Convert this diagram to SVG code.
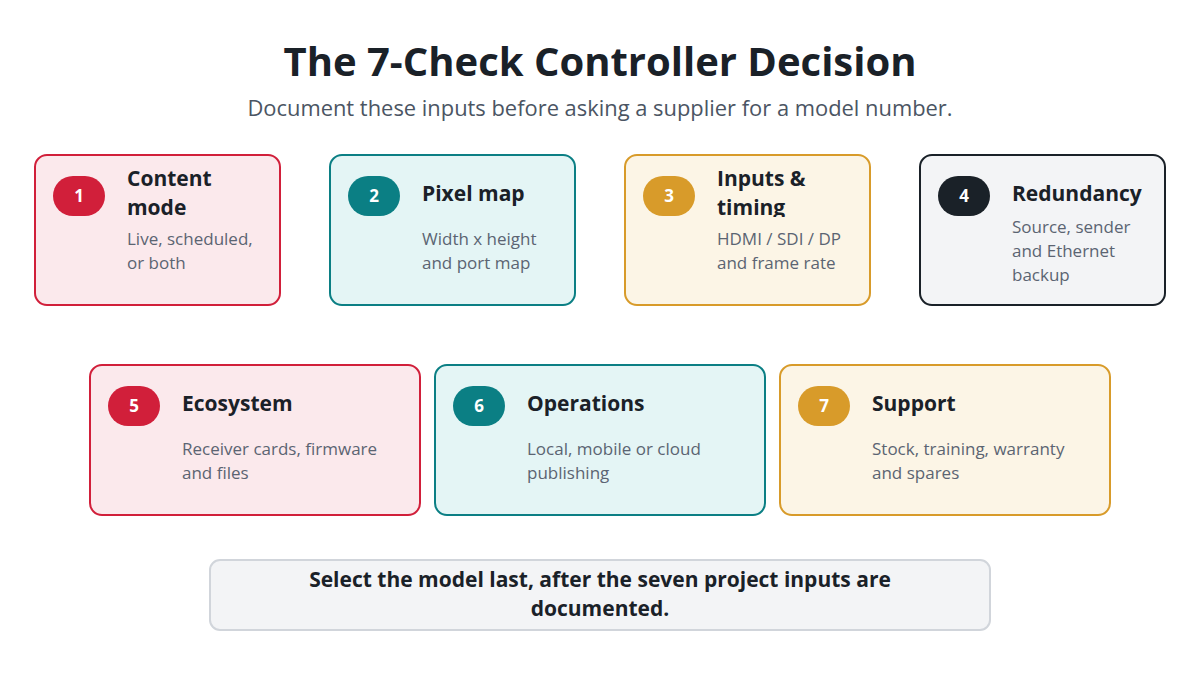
<svg xmlns="http://www.w3.org/2000/svg" width="1200" height="675" viewBox="0 0 1200 675">
<style>
text{font-family:"Open Sans","Noto Sans",sans-serif}
.h{font-size:40px;font-weight:700;fill:#1a2128}
.sub{font-size:21.9px;fill:#4b5563}
.t{font-size:21px;font-weight:700;fill:#1a2128}
.d{font-size:17px;fill:#5b6472}
.n{font-size:17px;font-weight:700;fill:#fff;text-anchor:middle}
.card{stroke-width:2}
.r{fill:#fbe9ec;stroke:#d11f3a}
.g{fill:#e4f5f5;stroke:#0b7f84}
.y{fill:#fcf5e6;stroke:#d89b2a}
.k{fill:#f3f4f6;stroke:#1a2128}
</style>
<defs><clipPath id="c3"><rect x="700" y="150" width="170" height="67"/></clipPath></defs>
<rect width="1200" height="675" fill="#fff"/>
<text class="h" x="600" y="76" text-anchor="middle">The 7-Check Controller Decision</text>
<text class="sub" x="600" y="116" text-anchor="middle">Document these inputs before asking a supplier for a model number.</text>
<g id="connectors"/>
<g id="n1"><rect class="card r" x="35" y="155" width="245" height="150" rx="12"/><rect x="53" y="176" width="52" height="40" rx="20" fill="#d11f3a"/><text class="n" x="79" y="202">1</text><text class="t" x="127" y="186">Content</text><text class="t" x="127" y="215">mode</text><text class="d" x="127" y="245">Live, scheduled,</text><text class="d" x="127" y="269">or both</text></g>
<g id="n2"><rect class="card g" x="330" y="155" width="245" height="150" rx="12"/><rect x="348" y="176" width="52" height="40" rx="20" fill="#0b7f84"/><text class="n" x="374" y="202">2</text><text class="t" x="422" y="201">Pixel map</text><text class="d" x="422" y="245">Width x height</text><text class="d" x="422" y="269">and port map</text></g>
<g id="n3"><rect class="card y" x="625" y="155" width="245" height="150" rx="12"/><rect x="643" y="176" width="52" height="40" rx="20" fill="#d89b2a"/><text class="n" x="669" y="202">3</text><text class="t" x="717" y="186">Inputs &amp;</text><text class="t" x="717" y="215" clip-path="url(#c3)">timing</text><text class="d" x="717" y="245">HDMI / SDI / DP</text><text class="d" x="717" y="269">and frame rate</text></g>
<g id="n4"><rect class="card k" x="920" y="155" width="245" height="150" rx="12"/><rect x="938" y="176" width="52" height="40" rx="20" fill="#1a2128"/><text class="n" x="964" y="202">4</text><text class="t" x="1012" y="201">Redundancy</text><text class="d" x="1012" y="233">Source, sender</text><text class="d" x="1012" y="257">and Ethernet</text><text class="d" x="1012" y="281">backup</text></g>
<g id="n5"><rect class="card r" x="90" y="365" width="330" height="150" rx="12"/><rect x="108" y="386" width="52" height="40" rx="20" fill="#d11f3a"/><text class="n" x="134" y="412">5</text><text class="t" x="182" y="411">Ecosystem</text><text class="d" x="182" y="455">Receiver cards, firmware</text><text class="d" x="182" y="479">and files</text></g>
<g id="n6"><rect class="card g" x="435" y="365" width="330" height="150" rx="12"/><rect x="453" y="386" width="52" height="40" rx="20" fill="#0b7f84"/><text class="n" x="479" y="412">6</text><text class="t" x="527" y="411">Operations</text><text class="d" x="527" y="455">Local, mobile or cloud</text><text class="d" x="527" y="479">publishing</text></g>
<g id="n7"><rect class="card y" x="780" y="365" width="330" height="150" rx="12"/><rect x="798" y="386" width="52" height="40" rx="20" fill="#d89b2a"/><text class="n" x="824" y="412">7</text><text class="t" x="872" y="411">Support</text><text class="d" x="872" y="455">Stock, training, warranty</text><text class="d" x="872" y="479">and spares</text></g>
<g id="note"><rect x="210" y="560" width="780" height="70" rx="10" fill="#f3f4f6" stroke="#d1d5db" stroke-width="2"/><text x="600" y="587" text-anchor="middle" font-size="21" font-weight="700" fill="#1a2128">Select the model last, after the seven project inputs are</text><text x="600" y="616" text-anchor="middle" font-size="21" font-weight="700" fill="#1a2128">documented.</text></g>
</svg>
